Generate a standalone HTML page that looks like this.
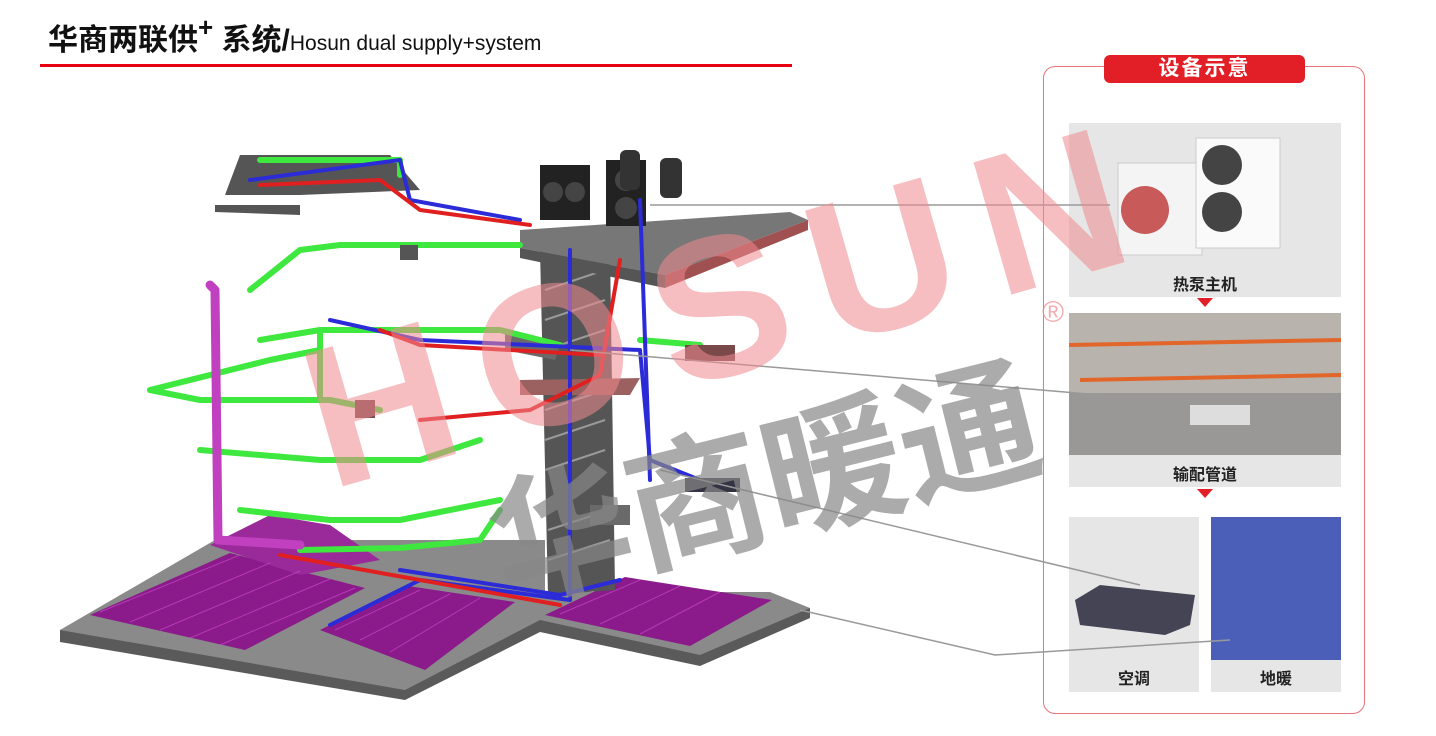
<!DOCTYPE html>
<html><head><meta charset="utf-8"><style>
html,body{margin:0;padding:0;background:#fff;}
body{width:1436px;height:736px;position:relative;overflow:hidden;font-family:"Liberation Sans","Noto Sans CJK SC",sans-serif;}
.t{position:absolute;left:48px;top:12px;font-size:30px;font-weight:bold;color:#111;white-space:nowrap}
.t small{font-size:21px;font-weight:normal}
.t sup{font-size:26px;vertical-align:14px}
.ul{position:absolute;left:40px;top:64px;width:752px;height:3px;background:#e60012}
.panel{position:absolute;left:1043px;top:66px;width:322px;height:648px;border:1.5px solid #e8747c;border-radius:12px;box-sizing:border-box}
.tag{position:absolute;left:1104px;top:55px;width:201px;height:28px;background:#e21f26;border-radius:6px;color:#fff;font-size:21px;font-weight:bold;text-align:center;line-height:28px;letter-spacing:2px}
.cap{position:absolute;font-size:16px;font-weight:bold;color:#222;text-align:center}
</style></head><body>
<div class="t">华商两联供<sup>+</sup> 系统/<small>Hosun dual supply+system</small></div>
<div class="ul"></div>
<div class="panel"></div>
<div class="tag">设备示意</div>
<svg width="1436" height="736" style="position:absolute;left:0;top:0">
<polygon points="60,630 215,540 545,540 545,592 770,592 810,608 700,663 540,628 405,698 60,640" fill="#8a8a8a"/>
<polygon points="60,630 405,690 540,620 700,655 810,608 810,618 700,666 540,632 405,700 60,642" fill="#5a5a5a"/>
<polygon points="90,615 230,553 365,588 245,650" fill="#8b1a8b"/>
<polygon points="320,630 408,586 515,602 425,670" fill="#8b1a8b"/>
<polygon points="545,615 625,577 772,600 690,646" fill="#8b1a8b"/>
<polygon points="210,545 270,515 330,525 380,560 300,575" fill="#9a2a9a"/>
<g stroke="#d050d0" stroke-width="1" opacity=".6">
<line x1="100" y1="612" x2="240" y2="555"/><line x1="130" y1="622" x2="270" y2="563"/><line x1="160" y1="630" x2="300" y2="571"/><line x1="190" y1="638" x2="330" y2="579"/><line x1="220" y1="645" x2="355" y2="588"/>
<line x1="335" y1="630" x2="420" y2="590"/><line x1="360" y1="640" x2="450" y2="594"/><line x1="390" y1="652" x2="480" y2="598"/>
<line x1="560" y1="614" x2="640" y2="580"/><line x1="600" y1="624" x2="680" y2="586"/><line x1="640" y1="634" x2="720" y2="592"/>
</g>
<polygon points="540,250 610,250 615,590 548,595" fill="#555"/>
<g stroke="#999" stroke-width="2">
<line x1="545" y1="290" x2="605" y2="270"/><line x1="545" y1="320" x2="605" y2="300"/><line x1="545" y1="350" x2="605" y2="330"/><line x1="545" y1="410" x2="605" y2="390"/><line x1="545" y1="440" x2="605" y2="420"/><line x1="545" y1="470" x2="605" y2="450"/><line x1="548" y1="530" x2="610" y2="510"/><line x1="548" y1="560" x2="610" y2="540"/>
</g>
<polygon points="505,330 560,345 555,360 505,350" fill="#6a6a6a"/>
<polygon points="520,380 640,378 630,395 520,395" fill="#9b6060"/>
<polygon points="590,505 630,505 630,525 590,525" fill="#6a6a6a"/>
<polygon points="520,230 790,212 808,220 665,275 520,248" fill="#777"/>
<polygon points="665,275 808,220 808,230 665,288" fill="#a05050"/>
<polygon points="520,248 665,275 665,288 520,258" fill="#555"/>
<rect x="540" y="165" width="50" height="55" fill="#222"/><circle cx="553" cy="192" r="10" fill="#444"/><circle cx="575" cy="192" r="10" fill="#444"/>
<rect x="606" y="160" width="40" height="66" fill="#222"/><circle cx="626" cy="180" r="11" fill="#444"/><circle cx="626" cy="208" r="11" fill="#444"/>
<rect x="620" y="150" width="20" height="40" fill="#333" rx="6"/><rect x="660" y="158" width="22" height="40" fill="#333" rx="6"/>
<polygon points="240,155 390,155 420,190 300,195 225,195" fill="#555"/>
<polygon points="215,205 300,205 300,215 215,212" fill="#555"/>
<g fill="none" stroke-linecap="round" stroke-linejoin="round">
<g stroke="#3ee83e" stroke-width="6">
<polyline points="260,160 400,160 400,175"/>
<polyline points="250,290 300,250 340,245 520,245"/>
<polyline points="260,340 320,330 500,330 560,345"/>
<polyline points="150,390 200,400 330,400 380,410"/>
<polyline points="200,450 320,460 420,460 480,440"/>
<polyline points="240,510 330,520 400,520 500,500"/>
<polyline points="300,550 400,548 480,540 500,510"/>
<polyline points="150,390 270,360 320,350"/>
<polyline points="320,330 320,400"/>
<polyline points="640,340 700,345"/>
</g>
<g stroke="#2b2bd8" stroke-width="4">
<polyline points="250,180 400,160 410,200 520,220"/>
<polyline points="330,320 420,340 640,350 650,460 700,480"/>
<polyline points="570,250 570,600 420,580 330,625"/>
<polyline points="640,200 650,480"/>
<polyline points="400,570 560,595 620,580"/>
</g>
<g stroke="#e02020" stroke-width="4">
<polyline points="260,185 380,180 420,210 530,225"/>
<polyline points="380,330 420,345 600,355"/>
<polyline points="420,420 530,410 600,375 620,260"/>
<polyline points="280,555 420,580 560,605"/>
</g>
<g stroke="#c040c0" stroke-width="9">
<polyline points="210,285 215,290 218,540 300,545"/>
</g>
</g>
<rect x="685" y="345" width="50" height="16" fill="#7a4a4a"/>
<rect x="685" y="478" width="55" height="14" fill="#334"/>
<rect x="355" y="400" width="20" height="18" fill="#7a4a4a"/>
<rect x="400" y="245" width="18" height="15" fill="#555"/>
<rect x="1069" y="123" width="272" height="174" fill="#e6e6e6"/>
<rect x="1118" y="163" width="84" height="92" fill="#f4f4f4" stroke="#ccc"/><circle cx="1145" cy="210" r="24" fill="#c95a5a"/>
<rect x="1196" y="138" width="84" height="110" fill="#fafafa" stroke="#ccc"/><circle cx="1222" cy="165" r="20" fill="#444"/><circle cx="1222" cy="212" r="20" fill="#444"/>
<rect x="1069" y="268" width="272" height="29" fill="#e6e6e6"/>
<polygon points="1197,298 1213,298 1205,307" fill="#e21f26"/>
<rect x="1069" y="313" width="272" height="174" fill="#9a9896"/>
<rect x="1069" y="313" width="272" height="80" fill="#b8b3ad"/>
<line x1="1069" y1="345" x2="1341" y2="340" stroke="#e2652a" stroke-width="4"/>
<line x1="1080" y1="380" x2="1341" y2="375" stroke="#e2652a" stroke-width="4"/>
<rect x="1190" y="405" width="60" height="20" fill="#ddd"/>
<rect x="1069" y="455" width="272" height="32" fill="#e6e6e6"/>
<polygon points="1197,489 1213,489 1205,498" fill="#e21f26"/>
<rect x="1069" y="517" width="130" height="175" fill="#e6e6e6"/>
<polygon points="1075,600 1100,585 1195,595 1190,625 1165,635 1080,625" fill="#445"/>
<rect x="1211" y="517" width="130" height="175" fill="#e6e6e6"/>
<rect x="1211" y="517" width="130" height="143" fill="#4c5fb8"/>
<g stroke="#999" stroke-width="1.5" fill="none">
<line x1="650" y1="205" x2="1110" y2="205"/>
<line x1="570" y1="350" x2="1100" y2="395"/>
<line x1="660" y1="470" x2="1140" y2="585"/>
<polyline points="800,610 995,655 1230,640"/>
</g>
<text x="330" y="490" font-family="Liberation Sans" font-weight="bold" font-size="200" fill="#ef8a8f" opacity=".55" textLength="840" lengthAdjust="spacing" transform="rotate(-16 330 490)">HOSUN</text>
<text x="1042" y="322" font-family="Liberation Sans" font-size="30" fill="#ef8a8f" opacity=".7">®</text>
<text x="505" y="600" font-family="Noto Sans CJK SC" font-weight="bold" font-size="140" fill="#888" opacity=".7" transform="rotate(-14 505 600)">华商暖通</text>
</svg>
<div class="cap" style="left:1069px;top:271px;width:272px">热泵主机</div>
<div class="cap" style="left:1069px;top:461px;width:272px">输配管道</div>
<div class="cap" style="left:1069px;top:665px;width:130px">空调</div>
<div class="cap" style="left:1211px;top:665px;width:130px">地暖</div>
</body></html>
